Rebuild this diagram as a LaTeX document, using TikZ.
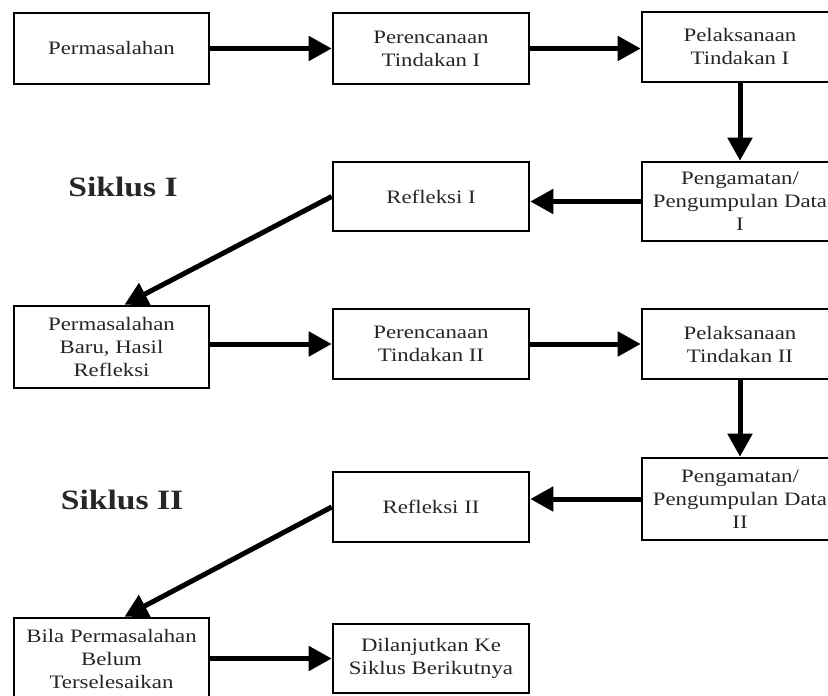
\documentclass[tikz,border=0pt]{standalone}
\usepackage{fontspec}
\setmainfont[FakeStretch=1.2]{Liberation Serif}
\usetikzlibrary{arrows.meta}
\tikzset{
	kotak/.style={draw, line width=2.6pt, rectangle, minimum width=196pt, align=center,
		inner sep=0pt, text=black!85, font=\fontsize{19pt}{23pt}\selectfont},
	panah/.style={line width=5pt, -{Triangle[length=23pt,width=24pt]}},
	judul/.style={font=\fontsize{28pt}{32pt}\selectfont\bfseries, text=black!85}
}
\begin{document}
\begin{tikzpicture}[x=1pt, y=-1pt]
		\useasboundingbox (0,0) rectangle (828,696);
		\clip (0,0) rectangle (828,696);
		% Siklus I
		\node[kotak, minimum width=195pt, minimum height=71pt] (perm1) at (111.5,48.5) {Permasalahan};
		\node[kotak, minimum height=71pt] (renc1) at (431,48.5) {Perencanaan\\Tindakan I};
		\node[kotak, minimum height=70pt] (laks1) at (740,47) {Pelaksanaan\\Tindakan I};
		\node[kotak, minimum height=79pt] (amat1) at (740,201.5) {Pengamatan/\\Pengumpulan Data\\I};
		\node[kotak, minimum height=69pt] (ref1) at (431,196.5) {Refleksi I};
		\node[judul] (siklusA) at (123,187) {Siklus I};
		% Siklus II
		\node[kotak, minimum width=195pt, minimum height=82pt] (perm2) at (111.5,347) {Permasalahan\\Baru, Hasil\\Refleksi};
		\node[kotak, minimum height=70pt] (renc2) at (431,344) {Perencanaan\\Tindakan II};
		\node[kotak, minimum height=70pt] (laks2) at (740,344) {Pelaksanaan\\Tindakan II};
		\node[kotak, minimum height=82pt] (amat2) at (740,499) {Pengamatan/\\Pengumpulan Data\\II};
		\node[kotak, minimum height=70pt] (ref2) at (431,507) {Refleksi II};
		\node[judul] (siklusB) at (122,500) {Siklus II};
		% Lanjutan
		\node[kotak, minimum width=195pt, minimum height=82pt] (bila) at (111.5,659) {Bila Permasalahan\\Belum\\Terselesaikan};
		\node[kotak, minimum height=69pt] (lanjut) at (431,658.5) {Dilanjutkan Ke\\Siklus Berikutnya};
		%
		% Panah
		%
		\foreach \a/\b in {perm1/renc1,renc1/laks1,renc2/laks2}{
			\draw[panah] (\a.east) -- (\a.east -| \b.west);
		}
		\draw[panah] (perm2.east |- renc2.west) -- (renc2.west);
		\draw[panah] (bila.east |- lanjut.west) -- (lanjut.west);
		\foreach \a/\b in {laks1/amat1,laks2/amat2}{
			\draw[panah] (\a) -- (\b);
		}
		\foreach \a/\b in {amat1/ref1,amat2/ref2}{
			\draw[panah] (\a.west) -- (\a.west -| \b.east);
		}
		\foreach \a/\b in {ref1/perm2,ref2/bila}{
			\draw[panah] (\a.west) -- ([xshift=13pt]\b.north);
		}
	\end{tikzpicture}
\end{document}
